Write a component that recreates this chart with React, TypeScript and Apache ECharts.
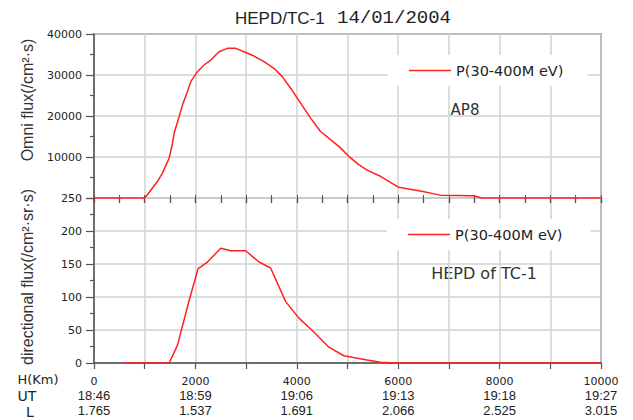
import React, { useEffect, useRef } from "react";
import * as echarts from "echarts";

const SERIES_NAME = "P(30-400M eV)";

// AP8 omni flux (top panel)
const apAltitude = [0, 1000, 1056, 1254, 1352, 1483, 1540, 1581, 1680, 1746, 1844, 1909, 2041, 2171, 2303, 2467, 2632, 2795, 2959, 3156, 3353, 3549, 3714, 3878, 4075, 4272, 4469, 4665, 4829, 5026, 5222, 5386, 5650, 6010, 6437, 6831, 7486, 7650, 10000];
const apFlux = [0, 0, 850, 4080, 6120, 9770, 12800, 15840, 19870, 22720, 25950, 28380, 30810, 32440, 33650, 35670, 36500, 36500, 35670, 34620, 33240, 31640, 29600, 26780, 23130, 19490, 16230, 14220, 12590, 10160, 8140, 6800, 5300, 2600, 1700, 700, 550, 0, 0];

// HEPD directional flux (bottom panel)
const hepdAltitude = [565, 1483, 1647, 1877, 2054, 2238, 2500, 2697, 2992, 3254, 3484, 3780, 4042, 4337, 4632, 4928, 5387, 5650, 5965, 10000];
const hepdFlux = [0, 0, 27, 95, 143, 153, 174, 170, 170, 153, 144, 93, 68, 47, 24, 11, 4.5, 1, 0, 0];

// Bottom axis label rows
const hTicks = [0, 2000, 4000, 6000, 8000, 10000];
const utLabels = ["18:46", "18:59", "19:06", "19:13", "19:18", "19:27"];
const lLabels = ["1.765", "1.537", "1.691", "2.066", "2.525", "3.015"];

const GRID_COLOR = "#d2d2d2";
const AXIS_COLOR = "#555";
const TEXT_COLOR = "#222";

export default function App() {
  const ref = useRef<HTMLDivElement>(null);

  useEffect(() => {
    if (!ref.current) return;
    const chart = echarts.init(ref.current, undefined, { renderer: "svg" });

    const baseX = {
      type: "value",
      min: 0,
      max: 10000,
      interval: 1000,
    };

    const legendCommon = {
      data: [SERIES_NAME],
      selectedMode: false,
      backgroundColor: "#fff",
      icon: "rect",
      itemWidth: 42,
      itemHeight: 1.5,
      textStyle: { fontFamily: "DejaVu Sans", fontSize: 14.5, color: TEXT_COLOR },
    };

    const option: any = {
      animation: false,
      backgroundColor: "#fff",
      title: {
        text: "{a|HEPD/TC-1}{b|14/01/2004}",
        left: 235,
        top: 7,
        padding: 0,
        textStyle: {
          fontWeight: "normal",
          rich: {
            a: { fontFamily: "Liberation Sans", fontSize: 17, fontWeight: "normal", color: TEXT_COLOR, width: 102, lineHeight: 22 },
            b: { fontFamily: "Liberation Mono", fontSize: 19, fontWeight: "normal", color: TEXT_COLOR, lineHeight: 22 },
          },
        },
      },
      grid: [
        { left: 94, width: 507, top: 34, height: 164, show: true, borderColor: AXIS_COLOR, borderWidth: 1.5, backgroundColor: "transparent" },
        { left: 94, width: 507, top: 198, height: 165, show: true, borderColor: AXIS_COLOR, borderWidth: 1.5, backgroundColor: "transparent" },
      ],
      xAxis: [
        {
          ...baseX,
          gridIndex: 0,
          position: "top",
          axisLine: { show: false },
          axisLabel: { show: false },
          axisTick: { show: true, inside: true, length: 5, lineStyle: { color: AXIS_COLOR, width: 1.2 } },
          minorTick: { show: true, splitNumber: 2, length: 5, lineStyle: { color: AXIS_COLOR, width: 1.2 } },
          splitLine: { show: true, lineStyle: { color: GRID_COLOR, width: 1.5 } },
        },
        {
          ...baseX,
          gridIndex: 0,
          position: "bottom",
          axisLine: { show: false },
          axisLabel: { show: false },
          axisTick: { show: true, inside: true, length: 3, lineStyle: { color: AXIS_COLOR, width: 1 } },
          minorTick: { show: true, splitNumber: 2, length: 3, lineStyle: { color: AXIS_COLOR, width: 1 } },
          splitLine: { show: false },
        },
        {
          ...baseX,
          gridIndex: 1,
          position: "bottom",
          axisLine: { show: true, lineStyle: { color: AXIS_COLOR, width: 1.5 } },
          axisTick: { show: true, inside: false, length: 6, lineStyle: { color: AXIS_COLOR, width: 1.2 } },
          splitLine: { show: true, lineStyle: { color: GRID_COLOR, width: 1.5 } },
          axisLabel: {
            show: true,
            interval: 1,
            margin: 11,
            formatter: (v: number) => {
              const i = hTicks.indexOf(v);
              if (i < 0) return "";
              return `{h|${hTicks[i]}}\n{u|${utLabels[i]}}\n{l|${lLabels[i]}}`;
            },
            rich: {
              h: { fontFamily: "DejaVu Sans", fontSize: 11, color: TEXT_COLOR, lineHeight: 14 },
              u: { fontFamily: "Liberation Sans", fontSize: 13, color: TEXT_COLOR, lineHeight: 15 },
              l: { fontFamily: "Liberation Sans", fontSize: 13, color: TEXT_COLOR, lineHeight: 15 },
            },
          },
        },
        {
          ...baseX,
          gridIndex: 1,
          position: "top",
          axisLine: { show: false },
          axisLabel: { show: false },
          axisTick: { show: true, inside: true, length: 5, lineStyle: { color: AXIS_COLOR, width: 1.2 } },
          minorTick: { show: true, splitNumber: 2, length: 5, lineStyle: { color: AXIS_COLOR, width: 1.2 } },
          splitLine: { show: false },
        },
      ],
      yAxis: [
        {
          type: "value",
          gridIndex: 0,
          min: 0,
          max: 40000,
          interval: 10000,
          axisLine: { show: true, lineStyle: { color: AXIS_COLOR, width: 1.5 } },
          axisTick: { show: true, inside: false, length: 8, lineStyle: { color: AXIS_COLOR, width: 1.2 } },
          minorTick: { show: true, splitNumber: 2, length: 4, lineStyle: { color: AXIS_COLOR, width: 1.2 } },
          splitLine: { show: true, lineStyle: { color: GRID_COLOR, width: 1.5 } },
          axisLabel: {
            margin: 12,
            fontFamily: "DejaVu Sans",
            fontSize: 11,
            color: TEXT_COLOR,
            formatter: (v: number) => (v === 0 ? "" : String(v)),
          },
        },
        {
          type: "value",
          gridIndex: 1,
          min: 0,
          max: 250,
          interval: 50,
          axisLine: { show: true, lineStyle: { color: AXIS_COLOR, width: 1.5 } },
          axisTick: { show: true, inside: false, length: 8, lineStyle: { color: AXIS_COLOR, width: 1.2 } },
          minorTick: { show: true, splitNumber: 2, length: 4, lineStyle: { color: AXIS_COLOR, width: 1.2 } },
          splitLine: { show: true, lineStyle: { color: GRID_COLOR, width: 1.5 } },
          axisLabel: {
            margin: 12,
            fontFamily: "DejaVu Sans",
            fontSize: 11,
            color: TEXT_COLOR,
          },
        },
      ],
      legend: [
        { ...legendCommon, left: 388, top: 55, padding: [8, 24, 8, 21] },
        { ...legendCommon, left: 387, top: 219, padding: [8, 28, 8, 21] },
      ],
      graphic: [
        {
          type: "text",
          x: 465,
          y: 110,
          style: { text: "AP8", font: '15px "DejaVu Sans"', fill: "#333", align: "center", verticalAlign: "middle" },
        },
        {
          type: "text",
          x: 484,
          y: 273,
          style: { text: "HEPD of TC-1", font: '16px "DejaVu Sans"', fill: "#333", align: "center", verticalAlign: "middle" },
        },
        {
          type: "text",
          x: 27,
          y: 100,
          rotation: Math.PI / 2,
          style: { text: "Omni flux(/cm²·s)", font: '16px "Liberation Sans"', fill: "#333", align: "center", verticalAlign: "middle" },
        },
        {
          type: "text",
          x: 27,
          y: 277,
          rotation: Math.PI / 2,
          style: { text: "directional flux(/cm²·sr·s)", font: '16px "Liberation Sans"', fill: "#333", align: "center", verticalAlign: "middle" },
        },
        {
          type: "text",
          x: 38,
          y: 379,
          style: { text: "H(Km)", font: '13px "DejaVu Sans"', fill: TEXT_COLOR, align: "center", verticalAlign: "middle" },
        },
        {
          type: "text",
          x: 27,
          y: 396,
          style: { text: "UT", font: '14px "DejaVu Sans"', fill: TEXT_COLOR, align: "center", verticalAlign: "middle" },
        },
        {
          type: "text",
          x: 30,
          y: 412,
          style: { text: "L", font: '14px "DejaVu Sans"', fill: TEXT_COLOR, align: "center", verticalAlign: "middle" },
        },
      ],
      series: [
        {
          name: SERIES_NAME,
          type: "line",
          xAxisIndex: 0,
          yAxisIndex: 0,
          symbol: "none",
          color: "#ff2020",
          lineStyle: { width: 1.5, color: "#ff2020" },
          data: apAltitude.map((x, i) => [x, apFlux[i]]),
          clip: false,
          z: 5,
        },
        {
          name: SERIES_NAME,
          type: "line",
          xAxisIndex: 2,
          yAxisIndex: 1,
          symbol: "none",
          color: "#ff2020",
          lineStyle: { width: 1.5, color: "#ff2020" },
          data: hepdAltitude.map((x, i) => [x, hepdFlux[i]]),
          clip: false,
          z: 5,
        },
      ],
    };

    chart.setOption(option);
    return () => chart.dispose();
  }, []);

  return (
    <div
      ref={ref}
      style={{ position: "fixed", left: 0, top: 0, width: 633, height: 420, background: "#fff" }}
    />
  );
}
